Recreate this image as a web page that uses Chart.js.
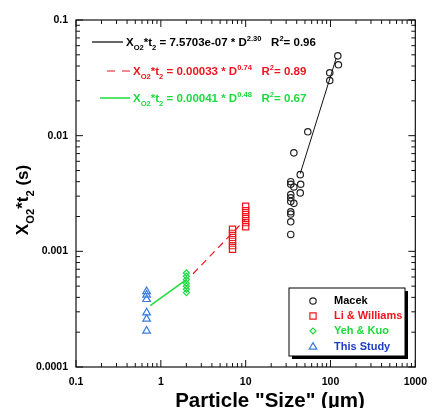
<!DOCTYPE html>
<html>
<head>
<meta charset="utf-8">
<script src="https://cdn.jsdelivr.net/npm/chart.js@4.4.0/dist/chart.umd.min.js"></script>
<style>
  html, body { margin: 0; padding: 0; background: #fff; }
  #wrap { width: 436px; height: 408px; }
</style>
</head>
<body>
<div id="wrap"><canvas id="chart" width="436" height="408"></canvas></div>
<script>
// values
const macekX = [122, 124, 98, 98, 54, 37, 44, 34, 34, 37, 44.5, 44, 34, 34, 34, 37, 34, 34, 34, 34];
const macekY = [0.049, 0.041, 0.035, 0.030, 0.0108, 0.0071, 0.0046, 0.0040, 0.0038, 0.0036, 0.0038, 0.0032, 0.0031, 0.0029, 0.0027, 0.0026, 0.0022, 0.0021, 0.0018, 0.0014];
const liX = [7, 7, 7, 7, 7, 7, 10, 10, 10, 10, 10, 10];
const liY = [0.00155, 0.00143, 0.00132, 0.00122, 0.00112, 0.00104, 0.00245, 0.00225, 0.00208, 0.00192, 0.00177, 0.00163];
const yehX = [2, 2, 2, 2, 2, 2, 2];
const yehY = [0.00065, 0.00061, 0.00057, 0.00053, 0.00050, 0.00047, 0.00044];
const studyX = [0.68, 0.68, 0.68, 0.68, 0.68, 0.68];
const studyY = [0.00045, 0.00042, 0.000385, 0.000295, 0.00026, 0.000205];

// fitted power-law lines (end points)
const macekFitX = [44, 117];
const macekFitY = [0.0047, 0.047];
const liFitX = [2.4, 10];
const liFitY = [0.00064, 0.0019];
const yehFitX = [0.75, 2.0];
const yehFitY = [0.00034, 0.00057];

const xTicks = [0.1, 1, 10, 100, 1000];
const xTickLabels = ['0.1', '1', '10', '100', '1000'];
const yTicks = [0.0001, 0.001, 0.01, 0.1];
const yTickLabels = ['0.0001', '0.001', '0.01', '0.1'];

const seriesNames = ['Macek', 'Li & Williams', 'Yeh & Kuo', 'This Study'];
const fitTexts = [
  { coef: '7.5703e-07', exp: '2.30', r2: '0.96' },
  { coef: '0.00033', exp: '0.74', r2: '0.89' },
  { coef: '0.00041', exp: '0.48', r2: '0.67' }
];

const BLACK = '#222';
const RED = '#f0141e';
const GREEN = '#1cdc3c';
const BLUE = '#3a7de0';
const BLUE_TEXT = '#1f3cc8';
const FONT = 'Liberation Sans, Arial, sans-serif';

const pts = (xs, ys) => xs.map((x, i) => ({ x, y: ys[i] }));

const markerSet = [
  { style: 'circle', r: 3.2, color: BLACK },
  { style: 'rect', r: 4.4, color: RED },
  { style: 'rectRot', r: 3, color: GREEN },
  { style: 'triangle', r: 4.4, color: BLUE }
];

const scatterDs = (data, m) => ({
  data, showLine: false, pointStyle: m.style, pointRadius: m.r,
  borderColor: m.color, backgroundColor: 'rgba(0,0,0,0)', pointBorderWidth: 1.2
});
const lineDs = (data, color, dash, w) => ({
  data, showLine: true, pointRadius: 0, borderColor: color,
  borderWidth: w, borderDash: dash, fill: false
});

// draw text with sub/superscripts, returns width
const drawRich = (ctx, x, y, parts, size, measureOnly) => {
  let cx = x;
  parts.forEach(p => {
    const small = p.s === 'sub' || p.s === 'sup';
    const fs = small ? size * 0.66 : size;
    ctx.font = `bold ${fs}px ${FONT}`;
    const dy = p.s === 'sub' ? size * 0.33 : p.s === 'sup' ? -size * 0.42 : 0;
    if (!measureOnly) ctx.fillText(p.t, cx, y + dy);
    cx += ctx.measureText(p.t).width;
  });
  return cx - x;
};

const drawMarker = (ctx, m, x, y) => {
  ctx.save();
  ctx.strokeStyle = m.color;
  ctx.lineWidth = 1.2;
  ctx.fillStyle = 'rgba(0,0,0,0)';
  Chart.helpers.drawPoint(ctx, { pointStyle: m.style, radius: m.r, rotation: 0, borderWidth: 1.2 }, x, y);
  ctx.restore();
};

const decorPlugin = {
  id: 'decor',
  afterDraw(chart) {
    const { ctx, chartArea: a, scales: { x, y } } = chart;
    ctx.save();
    // frame
    ctx.strokeStyle = '#111';
    ctx.lineWidth = 1.2;
    ctx.strokeRect(a.left, a.top, a.right - a.left, a.bottom - a.top);

    // inward ticks on all four sides
    const ticksFor = (scale, lo, hi, cb) => {
      for (let d = lo; d <= hi; d++) {
        for (let k = 1; k <= 9; k++) {
          const v = k * Math.pow(10, d);
          if (v < scale.min * 0.999 || v > scale.max * 1.001) continue;
          cb(scale.getPixelForValue(v), k === 1 ? 7 : 4);
        }
      }
    };
    ctx.lineWidth = 1;
    ctx.beginPath();
    ticksFor(x, -1, 3, (px, len) => {
      ctx.moveTo(px, a.bottom); ctx.lineTo(px, a.bottom - len);
      ctx.moveTo(px, a.top); ctx.lineTo(px, a.top + len);
    });
    ticksFor(y, -4, -1, (py, len) => {
      ctx.moveTo(a.left, py); ctx.lineTo(a.left + len, py);
      ctx.moveTo(a.right, py); ctx.lineTo(a.right - len, py);
    });
    ctx.stroke();

    // y axis title
    ctx.fillStyle = '#000';
    ctx.textBaseline = 'alphabetic';
    ctx.textAlign = 'left';
    const yTitle = [{ t: 'X' }, { t: 'O2', s: 'sub' }, { t: '*t' }, { t: '2', s: 'sub' }, { t: ' (s)' }];
    ctx.save();
    ctx.translate(28, 200);
    ctx.rotate(-Math.PI / 2);
    const tw = drawRich(ctx, 0, 0, yTitle, 17, true);
    drawRich(ctx, -tw / 2, 0, yTitle, 17);
    ctx.restore();

    // x axis title
    ctx.font = `bold 20.5px ${FONT}`;
    ctx.textAlign = 'center';
    ctx.fillText('Particle "Size" (\u00b5m)', 270, 407);
    ctx.textAlign = 'left';

    // fit equations with line samples
    const eqRows = [
      { y: 42, x0: 92, x1: 123, tx: 126, color: '#000', dash: [], w: 1.2 },
      { y: 71, x0: 107, x1: 131, tx: 133, color: RED, dash: [8, 7], w: 1.2 },
      { y: 98, x0: 100, x1: 130, tx: 133, color: GREEN, dash: [], w: 1.5 }
    ];
    eqRows.forEach((r, i) => {
      ctx.strokeStyle = r.color;
      ctx.lineWidth = r.w;
      ctx.setLineDash(r.dash);
      ctx.beginPath();
      ctx.moveTo(r.x0, r.y); ctx.lineTo(r.x1, r.y);
      ctx.stroke();
      ctx.setLineDash([]);
      ctx.fillStyle = r.color;
      const f = fitTexts[i];
      drawRich(ctx, r.tx, r.y + 4, [
        { t: 'X' }, { t: 'O2', s: 'sub' }, { t: '*t' }, { t: '2', s: 'sub' },
        { t: ' = ' + f.coef + ' * D' }, { t: f.exp, s: 'sup' },
        { t: '   R' }, { t: '2', s: 'sup' }, { t: '= ' + f.r2 }
      ], 11.5);
    });

    // legend box with shadow
    const L = { l: 289, t: 288, r: 405, b: 356 };
    ctx.fillStyle = '#000';
    ctx.fillRect(L.l + 3, L.t + 3, L.r - L.l, L.b - L.t);
    ctx.fillStyle = '#fff';
    ctx.fillRect(L.l, L.t, L.r - L.l, L.b - L.t);
    ctx.strokeStyle = '#000';
    ctx.lineWidth = 1;
    ctx.strokeRect(L.l, L.t, L.r - L.l, L.b - L.t);
    const textColors = ['#000', RED, GREEN, BLUE_TEXT];
    const rowY = [301, 316, 331, 347];
    ctx.textBaseline = 'middle';
    seriesNames.forEach((name, i) => {
      drawMarker(ctx, markerSet[i], 313, rowY[i]);
      ctx.fillStyle = textColors[i];
      ctx.font = `bold 11px ${FONT}`;
      ctx.fillText(name, 334, rowY[i]);
    });
    ctx.restore();
  }
};

new Chart(document.getElementById('chart'), {
  type: 'scatter',
  data: {
    datasets: [
      lineDs(pts(macekFitX, macekFitY), '#111', [], 1),
      lineDs(pts(liFitX, liFitY), RED, [7, 5], 1.2),
      lineDs(pts(yehFitX, yehFitY), GREEN, [], 1.5),
      scatterDs(pts(macekX, macekY), markerSet[0]),
      scatterDs(pts(liX, liY), markerSet[1]),
      scatterDs(pts(yehX, yehY), markerSet[2]),
      scatterDs(pts(studyX, studyY), markerSet[3])
    ]
  },
  options: {
    responsive: false,
    animation: false,
    devicePixelRatio: 1,
    layout: { padding: { top: 20, right: 12, left: 0, bottom: 0 } },
    plugins: { legend: { display: false }, tooltip: { enabled: false } },
    scales: {
      x: {
        type: 'logarithmic', min: 0.1, max: 1000,
        grid: { display: false, drawTicks: false },
        border: { display: false },
        afterBuildTicks: s => { s.ticks = xTicks.map(v => ({ value: v })); },
        afterFit: s => { s.height = 41; },
        ticks: {
          padding: 9, maxRotation: 0, autoSkip: false,
          color: '#000', font: { family: FONT, size: 10.5, weight: 'bold' },
          callback: v => xTickLabels[xTicks.findIndex(t => Math.abs(t - v) < t * 1e-6)] ?? ''
        }
      },
      y: {
        type: 'logarithmic', min: 0.0001, max: 0.1,
        grid: { display: false, drawTicks: false },
        border: { display: false },
        afterBuildTicks: s => { s.ticks = yTicks.map(v => ({ value: v })); },
        afterFit: s => { s.width = 76; },
        ticks: {
          padding: 8, autoSkip: false,
          color: '#000', font: { family: FONT, size: 10.5, weight: 'bold' },
          callback: v => yTickLabels[yTicks.findIndex(t => Math.abs(t - v) < t * 1e-6)] ?? ''
        }
      }
    }
  },
  plugins: [decorPlugin]
});
</script>
</body>
</html>
